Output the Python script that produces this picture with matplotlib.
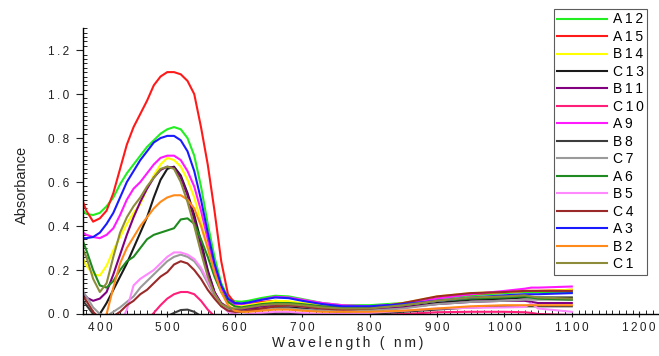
import matplotlib
matplotlib.use("Agg")
import matplotlib.pyplot as plt
from matplotlib.ticker import MultipleLocator, FuncFormatter

plt.rcParams['font.family'] = ['Liberation Sans', 'DejaVu Sans']

# Wavelength grid (nm) shared by all spectra
wavelength = [375, 380, 390, 400, 410, 420, 430, 440, 450, 460, 470, 480, 490, 500,
              510, 520, 530, 540, 550, 560, 570, 580, 590, 600, 610, 620, 640, 660,
              680, 700, 730, 760, 800, 850, 900, 950, 1000, 1030, 1040, 1050, 1100]

A12 = [0.47, 0.455, 0.45, 0.46, 0.49, 0.53, 0.59, 0.64, 0.68, 0.72, 0.76, 0.79, 0.82, 0.84,
       0.85, 0.84, 0.80, 0.72, 0.58, 0.41, 0.26, 0.14, 0.075, 0.058, 0.056, 0.06, 0.073, 0.083,
       0.08, 0.068, 0.05, 0.04, 0.04, 0.05, 0.07, 0.085, 0.095, 0.10, 0.10, 0.10, 0.10]
A15 = [0.51, 0.47, 0.42, 0.435, 0.47, 0.55, 0.66, 0.77, 0.85, 0.91, 0.97, 1.04, 1.08, 1.10,
       1.10, 1.09, 1.06, 1.00, 0.85, 0.68, 0.47, 0.24, 0.09, 0.05, 0.045, 0.05, 0.055, 0.06,
       0.055, 0.045, 0.035, 0.03, 0.03, 0.045, 0.075, 0.09, 0.10, 0.105, 0.105, 0.105, 0.11]
B14 = [0.25, 0.22, 0.18, 0.175, 0.22, 0.29, 0.35, 0.41, 0.46, 0.50, 0.57, 0.63, 0.68, 0.71,
       0.70, 0.67, 0.61, 0.53, 0.42, 0.30, 0.18, 0.10, 0.05, 0.035, 0.035, 0.04, 0.05, 0.06,
       0.058, 0.05, 0.04, 0.03, 0.03, 0.05, 0.08, 0.095, 0.10, 0.105, 0.105, 0.105, 0.11]
C13 = [-0.08, -0.07, -0.04, 0.0, 0.05, 0.11, 0.17, 0.23, 0.30, 0.37, 0.44, 0.53, 0.61, 0.66,
       0.67, 0.63, 0.55, 0.45, 0.33, 0.20, 0.10, 0.04, 0.02, 0.015, 0.015, 0.02, 0.025, 0.03,
       0.03, 0.025, 0.015, 0.01, 0.015, 0.03, 0.05, 0.065, 0.07, 0.075, 0.075, 0.075, 0.075]
B11 = [0.10, 0.075, 0.06, 0.07, 0.10, 0.18, 0.27, 0.36, 0.44, 0.51, 0.57, 0.62, 0.655, 0.67,
       0.665, 0.62, 0.54, 0.43, 0.31, 0.19, 0.10, 0.05, 0.03, 0.02, 0.02, 0.025, 0.035, 0.04,
       0.04, 0.035, 0.025, 0.02, 0.02, 0.03, 0.045, 0.055, 0.06, 0.06, 0.055, 0.05, 0.05]
C10 = [-0.05, -0.05, -0.05, -0.05, -0.05, -0.05, -0.05, -0.05, -0.05, -0.04, -0.03, 0.005, 0.04, 0.07,
       0.09, 0.10, 0.10, 0.09, 0.06, 0.02, -0.01, -0.02, -0.02, -0.02, -0.02, -0.015, -0.01, -0.005,
       -0.005, -0.01, -0.01, -0.01, -0.005, 0.0, 0.008, 0.01, 0.01, 0.008, 0.005, 0.0, -0.005]
A9 = [0.37, 0.36, 0.35, 0.345, 0.36, 0.39, 0.45, 0.52, 0.57, 0.60, 0.64, 0.68, 0.71, 0.72,
      0.72, 0.70, 0.65, 0.58, 0.47, 0.34, 0.21, 0.12, 0.065, 0.045, 0.045, 0.05, 0.065, 0.078,
      0.075, 0.065, 0.05, 0.04, 0.035, 0.045, 0.07, 0.09, 0.105, 0.115, 0.12, 0.12, 0.125]
B8 = [0.06, 0.04, 0.0, -0.02, -0.03, -0.03, -0.03, -0.03, -0.03, -0.03, -0.03, -0.03, -0.02, -0.01,
      0.005, 0.018, 0.02, 0.01, -0.01, -0.02, -0.02, -0.02, -0.02, -0.02, -0.015, -0.01, 0.0, 0.005,
      0.005, 0.0, -0.005, -0.005, 0.0, 0.01, 0.02, 0.03, 0.035, 0.035, 0.035, 0.035, 0.035]
C7 = [0.10, 0.08, 0.03, 0.0, -0.01, 0.01, 0.03, 0.055, 0.08, 0.12, 0.15, 0.18, 0.21, 0.24,
      0.26, 0.27, 0.26, 0.24, 0.20, 0.14, 0.08, 0.04, 0.02, 0.01, 0.01, 0.015, 0.02, 0.025,
      0.025, 0.02, 0.015, 0.01, 0.015, 0.025, 0.045, 0.055, 0.06, 0.065, 0.065, 0.065, 0.065]
A6 = [0.33, 0.29, 0.20, 0.13, 0.12, 0.15, 0.20, 0.24, 0.26, 0.30, 0.34, 0.36, 0.37, 0.38,
      0.39, 0.43, 0.435, 0.41, 0.34, 0.26, 0.17, 0.10, 0.055, 0.035, 0.03, 0.035, 0.045, 0.05,
      0.05, 0.045, 0.035, 0.03, 0.03, 0.04, 0.06, 0.07, 0.075, 0.08, 0.075, 0.07, 0.065]
B5 = [-0.05, -0.05, -0.05, -0.05, -0.05, -0.05, -0.05, 0.02, 0.13, 0.16, 0.18, 0.20, 0.23, 0.26,
      0.28, 0.28, 0.27, 0.25, 0.21, 0.15, 0.09, 0.04, 0.01, 0.0, -0.005, 0.0, 0.005, 0.01,
      0.01, 0.005, 0.0, 0.0, 0.005, 0.015, 0.025, 0.028, 0.03, 0.032, 0.048, 0.025, 0.01]
C4 = [0.08, 0.06, 0.01, -0.02, -0.02, -0.01, 0.01, 0.04, 0.06, 0.09, 0.11, 0.14, 0.17, 0.19,
      0.225, 0.24, 0.23, 0.20, 0.16, 0.11, 0.07, 0.035, 0.015, 0.01, 0.01, 0.015, 0.025, 0.035,
      0.04, 0.035, 0.025, 0.02, 0.025, 0.05, 0.08, 0.095, 0.10, 0.105, 0.105, 0.105, 0.105]
A3 = [0.345, 0.345, 0.35, 0.37, 0.41, 0.46, 0.53, 0.60, 0.65, 0.70, 0.74, 0.78, 0.80, 0.81,
      0.81, 0.79, 0.74, 0.65, 0.52, 0.37, 0.23, 0.13, 0.07, 0.05, 0.048, 0.052, 0.065, 0.075,
      0.072, 0.06, 0.045, 0.035, 0.035, 0.045, 0.06, 0.075, 0.085, 0.09, 0.09, 0.09, 0.095]
B2 = [-0.02, -0.03, -0.03, -0.03, 0.0, 0.12, 0.23, 0.30, 0.35, 0.40, 0.44, 0.48, 0.51, 0.53,
      0.54, 0.54, 0.52, 0.48, 0.40, 0.30, 0.19, 0.10, 0.04, 0.015, 0.01, 0.01, 0.015, 0.02,
      0.02, 0.015, 0.01, 0.01, 0.01, 0.015, 0.025, 0.035, 0.04, 0.04, 0.04, 0.04, 0.04]
C1 = [0.29, 0.26, 0.16, 0.10, 0.14, 0.26, 0.37, 0.44, 0.49, 0.53, 0.58, 0.62, 0.66, 0.67,
      0.66, 0.60, 0.51, 0.40, 0.28, 0.17, 0.09, 0.045, 0.03, 0.025, 0.025, 0.03, 0.04, 0.045,
      0.045, 0.04, 0.03, 0.025, 0.025, 0.04, 0.06, 0.075, 0.08, 0.085, 0.08, 0.075, 0.07]

sample_names = ["A12", "A15", "B14", "C13", "B11", "C10", "A9", "B8",
                "C7", "A6", "B5", "C4", "A3", "B2", "C1"]
spectra = [A12, A15, B14, C13, B11, C10, A9, B8, C7, A6, B5, C4, A3, B2, C1]
colors = ["#22ee22", "#ff1a1a", "#ffff00", "#1a1a1a", "#800080", "#ff1f7a", "#ff1aff",
          "#3c3c3c", "#9a9a9a", "#1f8a1f", "#ff88ff", "#9a2a2a", "#1a1aff", "#ff8a1a", "#8c8c3a"]

TRACK = "\u2009"  # thin space used as letter tracking


def tracked(s):
    return TRACK.join(s)


W, H = 659, 356
fig = plt.figure(figsize=(W / 100, H / 100), dpi=100)
ax = fig.add_axes([83 / W, (H - 314) / H, 0.885, 0.803])

for name, y, c in zip(sample_names, spectra, colors):
    ax.plot(wavelength, y, color=c, lw=1.5, label=tracked(name))

ax.set_xlim(375, 1240)
ax.set_ylim(0, 1.3)
ax.spines['top'].set_visible(False)
ax.spines['right'].set_visible(False)
ax.spines['left'].set_linewidth(1.0)
ax.spines['bottom'].set_linewidth(1.0)

ax.xaxis.set_major_locator(MultipleLocator(100))
ax.xaxis.set_minor_locator(MultipleLocator(10))
ax.yaxis.set_major_locator(MultipleLocator(0.2))
ax.yaxis.set_minor_locator(MultipleLocator(0.02))
ax.xaxis.set_major_formatter(FuncFormatter(lambda v, p: tracked(f"{v:.0f}")))
ax.yaxis.set_major_formatter(FuncFormatter(lambda v, p: tracked(f"{v:.1f}")))
ax.tick_params(axis='x', which='major', direction='inout', length=5, width=0.8,
               labelsize=8.5, colors='#222222', pad=3)
ax.tick_params(axis='y', which='major', direction='out', length=5, width=0.8,
               labelsize=8.5, colors='#222222', pad=5)
ax.tick_params(axis='both', which='minor', direction='in', length=3, width=0.6)

fig.text(348 / W, 1 - 343 / H, tracked("Wavelength ( nm)"), fontsize=10,
         ha='center', va='center', color='#222222')
fig.text(22 / W, 1 - 185 / H, "Absorbance", fontsize=10.5, rotation=90,
         ha='center', va='center', color='#222222')

leg = fig.legend(loc='upper left', bbox_to_anchor=(554 / W, 1 - 9 / H),
                 bbox_transform=fig.transFigure, fontsize=10, frameon=True,
                 fancybox=False, shadow=False, handlelength=3.6, handletextpad=0.4,
                 labelspacing=0.25, borderpad=0.25, borderaxespad=0)
leg.get_frame().set_edgecolor('#333333')
leg.get_frame().set_linewidth(0.8)

fig.savefig("out.png", dpi=100)
